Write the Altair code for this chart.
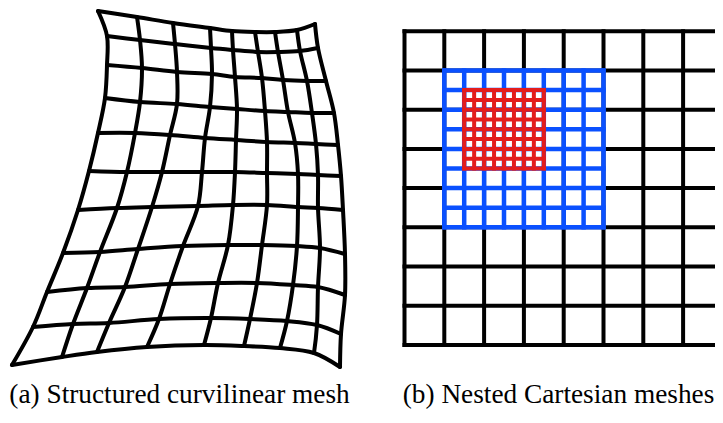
import altair as alt
import pandas as pd

# ---------------- data: panel (a) curvilinear mesh node positions ----------------
# 11 grid rows (i) x 9 grid columns (j); coordinates
MESH_X = [
    [98, 137, 173, 210, 232, 255, 275, 297, 315],
    [107, 140, 175, 211, 233, 258, 278, 300, 318],
    [107, 142, 177, 212, 235, 262, 283, 307, 326],
    [105, 140, 177, 210, 237, 265, 288, 312, 334],
    [98, 135, 170, 205, 236, 267, 295, 316, 338],
    [89, 127, 162, 202, 235, 267, 298, 318, 341],
    [78, 117, 152, 198, 233, 267, 298, 318, 343],
    [63, 100, 138, 183, 228, 262, 297, 320, 345],
    [47, 87, 125, 170, 218, 257, 293, 318, 345],
    [33, 73, 109, 159, 211, 250, 287, 317, 341],
    [12, 62, 97, 147, 204, 244, 280, 314, 340],
]
MESH_Y = [
    [11, 17, 23, 28, 31, 32, 32, 30, 24],
    [36, 40, 44, 48, 50, 52, 52, 51, 48],
    [65, 68, 72, 74, 77, 78, 80, 81, 81],
    [98, 102, 104, 107, 109, 111, 112, 113, 113],
    [133, 133, 135, 138, 140, 142, 143, 144, 145],
    [171, 172, 172, 172, 172, 173, 174, 175, 176],
    [210, 208, 207, 206, 205, 205, 207, 208, 210],
    [253, 252, 249, 246, 245, 245, 246, 248, 254],
    [292, 288, 287, 284, 283, 283, 285, 287, 295],
    [327, 324, 323, 319, 318, 319, 321, 325, 334],
    [365, 357, 352, 347, 345, 346, 348, 353, 367],
]

# ---------------- data: panel (b) nested Cartesian meshes (grid units) ----------------
COARSE_LINES = [0, 1, 2, 3, 4, 5, 6, 7, 8]
BLUE_LINES = [1.0, 1.5, 2.0, 2.5, 3.0, 3.5, 4.0, 4.5, 5.0]
RED_LINES = [1.5, 1.75, 2.0, 2.25, 2.5, 2.75, 3.0, 3.25, 3.5]

CAPTION_A = "(a) Structured curvilinear mesh"
CAPTION_B = "(b) Nested Cartesian meshes"

PANEL_H = 401
LEFT_W = 344
RIGHT_W = 314
GAP = 49

# ---------------- panel (a) ----------------
nodes = pd.DataFrame(
    [
        {"row": i, "col": j, "x": MESH_X[i][j], "y": MESH_Y[i][j]}
        for i in range(len(MESH_X))
        for j in range(len(MESH_X[0]))
    ]
)

xa = alt.Scale(domain=[8, 8 + LEFT_W], nice=False, zero=False)
ya = alt.Scale(domain=[8, 8 + PANEL_H], nice=False, zero=False, reverse=True)

line_style = dict(color="black", strokeWidth=4, interpolate="catmull-rom",
                  strokeCap="round", strokeJoin="round")

h_lines = alt.Chart(nodes).mark_line(**line_style).encode(
    x=alt.X("x:Q", scale=xa, axis=None),
    y=alt.Y("y:Q", scale=ya, axis=None),
    detail="row:N",
    order="col:Q",
)
v_lines = alt.Chart(nodes).mark_line(**line_style).encode(
    x=alt.X("x:Q", scale=xa, axis=None),
    y=alt.Y("y:Q", scale=ya, axis=None),
    detail="col:N",
    order="row:Q",
)


def caption(text, cx):
    return alt.Chart(pd.DataFrame({"caption": [text]})).mark_text(
        font="Liberation Serif", fontSize=27.3, fontWeight="normal", color="black",
        align="center", baseline="alphabetic",
    ).encode(text="caption:N", x=alt.value(cx), y=alt.value(395))


left = alt.layer(h_lines, v_lines, caption(CAPTION_A, 171.5)).properties(
    width=LEFT_W, height=PANEL_H)

# ---------------- panel (b) ----------------
PX_PER_UNIT_X = 39.8
PX_PER_UNIT_Y = 39.2
Y_TOP_UNIT = -0.594
xb = alt.Scale(domain=[-0.088, -0.088 + RIGHT_W / PX_PER_UNIT_X], nice=False, zero=False)
yb = alt.Scale(domain=[Y_TOP_UNIT, Y_TOP_UNIT + PANEL_H / PX_PER_UNIT_Y],
               nice=False, zero=False, reverse=True)


def grid_layers(lines, color, width):
    df = pd.DataFrame({"pos": lines, "lo": min(lines), "hi": max(lines)})
    style = dict(color=color, strokeWidth=width, strokeCap="square", clip=True)
    v = alt.Chart(df).mark_rule(**style).encode(
        x=alt.X("pos:Q", scale=xb, axis=None),
        y=alt.Y("lo:Q", scale=yb, axis=None),
        y2="hi:Q",
    )
    h = alt.Chart(df).mark_rule(**style).encode(
        y=alt.Y("pos:Q", scale=yb, axis=None),
        x=alt.X("lo:Q", scale=xb, axis=None),
        x2="hi:Q",
    )
    return [v, h]


right = alt.layer(
    *grid_layers(COARSE_LINES, "black", 4),
    *grid_layers(BLUE_LINES, "#0a50ff", 4.5),
    *grid_layers(RED_LINES, "#e31c1c", 4),
    caption(CAPTION_B, 157.5),
).properties(width=RIGHT_W, height=PANEL_H)

chart = (
    alt.hconcat(left, right, spacing=GAP)
    .properties(padding=0, background="white")
    .configure_view(strokeWidth=0)
)

chart.save("out.html", embed_options={"renderer": "svg", "actions": False})
